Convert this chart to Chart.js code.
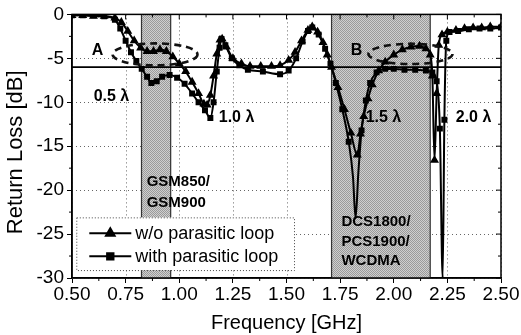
<!DOCTYPE html>
<html><head><meta charset="utf-8">
<script src="https://cdn.jsdelivr.net/npm/chart.js@4"></script>
<style>html,body{margin:0;padding:0;background:#fff}canvas{display:block}</style>
</head><body>
<canvas id="c" width="521" height="335"></canvas>
<script>
// ---- data ----
const woFreq = [0.50,0.55,0.60,0.65,0.70,0.73,0.76,0.79,0.82,0.85,0.88,0.91,0.94,0.97,1.00,1.03,1.06,1.09,1.115,1.13,1.145,1.16,1.175,1.19,1.20,1.22,1.25,1.29,1.33,1.38,1.43,1.47,1.51,1.54,1.57,1.60,1.62,1.645,1.67,1.69,1.71,1.74,1.77,1.80,1.83,1.845,1.86,1.88,1.90,1.93,1.96,2.00,2.04,2.08,2.12,2.15,2.17,2.18,2.19,2.20,2.21,2.225,2.25,2.29,2.33,2.37,2.41,2.45,2.50];
const woLoss = [-0.1,-0.1,-0.2,-0.2,-0.4,-0.9,-1.9,-3.0,-3.8,-4.2,-4.2,-4.0,-4.2,-4.8,-5.6,-6.5,-7.7,-9.0,-10.2,-10.3,-9.2,-7.0,-4.5,-2.9,-2.8,-3.7,-5.0,-5.6,-5.9,-5.9,-5.9,-5.8,-5.2,-4.3,-3.0,-1.8,-1.4,-2.0,-3.2,-4.6,-6.0,-8.3,-10.8,-13.5,-16.0,-13.6,-11.6,-9.6,-8.0,-6.4,-5.4,-4.6,-4.0,-3.7,-3.6,-3.9,-4.6,-7.0,-16.6,-9.0,-3.5,-2.3,-2.0,-1.8,-1.6,-1.5,-1.5,-1.4,-1.4];
const withFreq = [0.50,0.55,0.60,0.65,0.70,0.725,0.75,0.775,0.80,0.825,0.85,0.87,0.895,0.92,0.955,0.99,1.025,1.06,1.09,1.12,1.145,1.16,1.175,1.188,1.197,1.215,1.245,1.28,1.32,1.39,1.47,1.51,1.545,1.575,1.60,1.62,1.65,1.68,1.705,1.73,1.76,1.79,1.81,1.822,1.835,1.85,1.87,1.89,1.92,1.96,2.00,2.05,2.10,2.15,2.18,2.20,2.215,2.228,2.236,2.245,2.26,2.30,2.35,2.40,2.45,2.50];
const withLoss = [-0.1,-0.1,-0.1,-0.2,-0.6,-1.6,-3.0,-4.3,-5.3,-6.2,-7.1,-7.8,-7.6,-7.1,-6.9,-7.2,-7.9,-9.0,-10.0,-10.9,-11.8,-10.0,-6.5,-3.8,-2.8,-3.5,-5.0,-5.8,-6.3,-6.5,-6.8,-6.4,-5.0,-3.1,-1.9,-1.5,-2.3,-3.9,-5.6,-7.8,-10.8,-14.5,-18.5,-23.2,-18.0,-13.2,-9.8,-7.8,-6.6,-6.2,-6.2,-6.3,-6.3,-6.4,-6.6,-7.6,-13.0,-30.0,-12.0,-3.0,-2.0,-1.9,-1.7,-1.6,-1.6,-1.5];
const seriesLabels = ['w/o parasitic loop', 'with parasitic loop'];
const refLevel = -6;
const xTicks = [0.50,0.75,1.00,1.25,1.50,1.75,2.00,2.25,2.50];
const yTicks = [0,-5,-10,-15,-20,-25,-30];
const xMinor = [0.625,0.875,1.125,1.375,1.625,1.875,2.125,2.375];
const yMinor = [-2.5,-7.5,-12.5,-17.5,-22.5,-27.5];
const bands = [[0.824,0.96],[1.71,2.17]];
const bandText = [
  {lines:['GSM850/','GSM900'], x:0.848, y:[-19.1,-21.4]},
  {lines:['DCS1800/','PCS1900/','WCDMA'], x:1.756, y:[-23.6,-25.9,-28.1]}
];
const marks = [
  {text:'A', x:0.619, y:-4.1},
  {text:'0.5 λ', x:0.684, y:-9.4},
  {text:'1.0 λ', x:1.267, y:-11.8},
  {text:'B', x:1.826, y:-4.1},
  {text:'1.5 λ', x:1.952, y:-11.7},
  {text:'2.0 λ', x:2.372, y:-11.7}
];
const ellipses = [
  {cx:0.887, cy:-4.55, rx:0.198, ry:1.25},
  {cx:2.078, cy:-4.5, rx:0.196, ry:1.15}
];

const FONT = "'Liberation Sans', Arial, sans-serif";
const toPts = (xs, ys) => xs.map((v,i)=>({x:v, y:ys[i]}));

function bandPattern(ctx){
  const c = document.createElement('canvas'); c.width = 2; c.height = 2;
  const g = c.getContext('2d');
  g.fillStyle = '#cfcfcf'; g.fillRect(0,0,2,2);
  g.fillStyle = '#9a9a9a'; g.fillRect(0,0,1,1); g.fillRect(1,1,1,1);
  return ctx.createPattern(c, 'repeat');
}

const decor = {
  id:'decor',
  beforeDatasetsDraw(chart){
    const {ctx, chartArea:a, scales:{x,y}} = chart;
    ctx.save();
    // dotted grid
    ctx.strokeStyle = '#666'; ctx.lineWidth = 1; ctx.setLineDash([1,3]);
    ctx.beginPath();
    xTicks.forEach(v=>{ const p = Math.round(x.getPixelForValue(v))+0.5;
      ctx.moveTo(p, a.top); ctx.lineTo(p, a.bottom); });
    yTicks.forEach(v=>{ const p = Math.round(y.getPixelForValue(v))+0.5;
      ctx.moveTo(a.left, p); ctx.lineTo(a.right, p); });
    ctx.stroke();
    ctx.setLineDash([]);
    bands.forEach(([f0,f1])=>{
      const x0 = x.getPixelForValue(f0), x1 = x.getPixelForValue(f1);
      ctx.fillStyle = bandPattern(ctx);
      ctx.fillRect(x0, a.top, x1-x0, a.bottom-a.top);
      ctx.strokeStyle = '#333'; ctx.lineWidth = 1.2;
      ctx.beginPath();
      ctx.moveTo(x0,a.top); ctx.lineTo(x0,a.bottom);
      ctx.moveTo(x1,a.top); ctx.lineTo(x1,a.bottom);
      ctx.stroke();
    });
    ctx.restore();
  },
  afterDatasetsDraw(chart){
    const {ctx, chartArea:a, scales:{x,y}} = chart;
    ctx.save();
    // dashed ellipses
    ctx.strokeStyle = '#111'; ctx.lineWidth = 2.6; ctx.setLineDash([7,5]);
    ellipses.forEach(e=>{
      const cx = x.getPixelForValue(e.cx), cy = y.getPixelForValue(e.cy);
      const rx = Math.abs(x.getPixelForValue(e.cx+e.rx)-cx);
      const ry = Math.abs(y.getPixelForValue(e.cy+e.ry)-cy);
      ctx.beginPath(); ctx.ellipse(cx,cy,rx,ry,0,0,Math.PI*2); ctx.stroke();
    });
    ctx.setLineDash([]);
    // text marks
    ctx.fillStyle = '#000';
    ctx.font = 'bold 16px ' + FONT;
    ctx.textAlign = 'center'; ctx.textBaseline = 'middle';
    marks.forEach(m=> ctx.fillText(m.text, x.getPixelForValue(m.x), y.getPixelForValue(m.y)));
    ctx.font = 'bold 15px ' + FONT;
    ctx.textAlign = 'left';
    bandText.forEach(b=> b.lines.forEach((t,i)=> ctx.fillText(t, x.getPixelForValue(b.x), y.getPixelForValue(b.y[i]))));
    // legend
    const lx0 = x.getPixelForValue(0.52), lx1 = x.getPixelForValue(1.535);
    const ly0 = y.getPixelForValue(-23.1), ly1 = y.getPixelForValue(-29.1);
    ctx.fillStyle = '#fff';
    ctx.fillRect(lx0, ly0, lx1-lx0, ly1-ly0);
    ctx.strokeStyle = '#444'; ctx.lineWidth = 1; ctx.setLineDash([1,2]);
    ctx.strokeRect(lx0+0.5, ly0+0.5, lx1-lx0, ly1-ly0);
    ctx.setLineDash([]);
    const ds = chart.data.datasets.filter(d=>d.label);
    ds.forEach((d,i)=>{
      const yy = ly0 + 16 + i*23;
      ctx.strokeStyle = '#000'; ctx.lineWidth = 2;
      ctx.beginPath(); ctx.moveTo(lx0+13, yy); ctx.lineTo(lx0+55, yy); ctx.stroke();
      ctx.fillStyle = '#000';
      Chart.helpers.drawPoint(ctx, {pointStyle:d.pointStyle, radius:d.legendRadius, borderWidth:1, rotation:0}, lx0+34, yy);
      ctx.fillStyle = '#000'; ctx.font = '18px ' + FONT; ctx.textAlign='left'; ctx.textBaseline='middle';
      ctx.fillText(d.label, lx0+59, yy+1);
    });
    // frame
    ctx.strokeStyle = '#000'; ctx.lineWidth = 1.5;
    ctx.strokeRect(a.left, a.top, a.right-a.left, a.bottom-a.top);
    // minor ticks
    ctx.lineWidth = 1;
    ctx.beginPath();
    xMinor.forEach(v=>{ const p = x.getPixelForValue(v);
      ctx.moveTo(p, a.bottom); ctx.lineTo(p, a.bottom+3);
      ctx.moveTo(p, a.top); ctx.lineTo(p, a.top+3); });
    xTicks.forEach(v=>{ const p = x.getPixelForValue(v);
      ctx.moveTo(p, a.top); ctx.lineTo(p, a.top+5); });
    yMinor.forEach(v=>{ const p = y.getPixelForValue(v);
      ctx.moveTo(a.left-3, p); ctx.lineTo(a.left, p);
      ctx.moveTo(a.right-3, p); ctx.lineTo(a.right, p); });
    yTicks.forEach(v=>{ const p = y.getPixelForValue(v);
      ctx.moveTo(a.right-5, p); ctx.lineTo(a.right, p); });
    ctx.stroke();
    ctx.restore();
  }
};

const hideDeep = c => (c.raw && c.raw.y < -17);

new Chart(document.getElementById('c'), {
  type:'line',
  data:{
    datasets:[
      {data:[{x:xTicks[0], y:refLevel},{x:xTicks[xTicks.length-1], y:refLevel}], borderColor:'#000', borderWidth:1.6, pointRadius:0, tension:0},
      {label:seriesLabels[0], data:toPts(woFreq, woLoss), borderColor:'#000', borderWidth:2, backgroundColor:'#000',
       pointBackgroundColor:'#000', pointBorderColor:'#000',
       pointStyle:'triangle', pointRadius:c=>hideDeep(c)?0:3.2, legendRadius:5, cubicInterpolationMode:'monotone'},
      {label:seriesLabels[1], data:toPts(withFreq, withLoss), borderColor:'#000', borderWidth:2, backgroundColor:'#000',
       pointBackgroundColor:'#000', pointBorderColor:'#000',
       pointStyle:'rect', pointRadius:c=>hideDeep(c)?0:2.8, legendRadius:4.5, cubicInterpolationMode:'monotone'}
    ]
  },
  options:{
    responsive:false, animation:false,
    layout:{padding:{top:14, right:20, left:0, bottom:0}},
    plugins:{legend:{display:false}, tooltip:{enabled:false}},
    scales:{
      x:{type:'linear', min:xTicks[0], max:xTicks[xTicks.length-1],
        afterBuildTicks: s=>{ s.ticks = xTicks.map(v=>({value:v})); },
        afterFit: s=>{ s.height = 57; },
        border:{display:true, color:'#000', width:1.5},
        grid:{drawOnChartArea:false, color:'#000', tickColor:'#000', tickLength:5},
        ticks:{color:'#000', padding:0, font:{family:FONT, size:19}, maxRotation:0, callback:v=>Number(v).toFixed(2)},
        title:{display:true, text:'Frequency [GHz]', color:'#000', font:{family:FONT, size:20}, padding:{top:0,bottom:0}}
      },
      y:{type:'linear', min:yTicks[yTicks.length-1], max:yTicks[0],
        afterBuildTicks: s=>{ s.ticks = yTicks.map(v=>({value:v})); },
        afterFit: s=>{ s.width = 72; },
        border:{display:true, color:'#000', width:1.5},
        grid:{drawOnChartArea:false, color:'#000', tickColor:'#000', tickLength:5},
        ticks:{color:'#000', padding:3, font:{family:FONT, size:19}},
        title:{display:true, text:'Return Loss [dB]  ', color:'#000', font:{family:FONT, size:22}, padding:{top:3,bottom:0}}
      }
    }
  },
  plugins:[decor]
});
</script>
</body></html>
